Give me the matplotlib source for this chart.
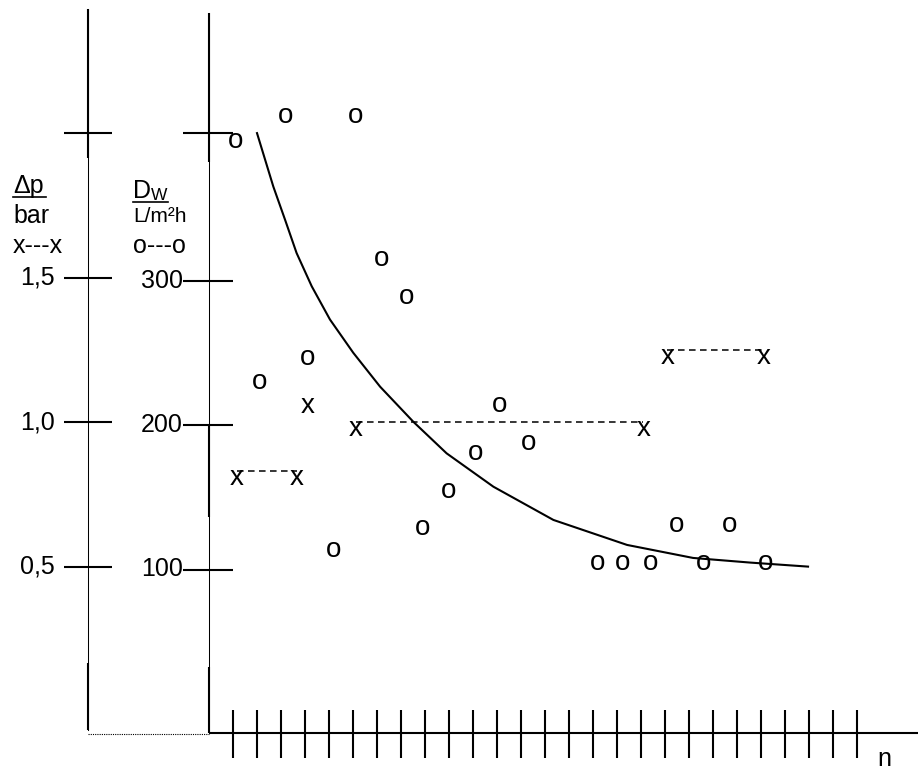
#Flux D_W and pressure drop over number of runs n
import matplotlib
matplotlib.use("Agg")
import matplotlib.pyplot as plt
from matplotlib.transforms import offset_copy

plt.rcParams['font.family'] = ['Liberation Sans', 'DejaVu Sans']

# D_W (L/m2h) per run n, drawn as "o"
flux_n = [1.1, 3.2, 6.1, 7.2, 8.25, 2.1, 4.1, 12.1, 13.3, 11.1, 10.0, 8.9, 5.2,
          16.2, 17.25, 18.4, 19.5, 21.7, 20.6, 23.2]
flux_D = [397, 414, 414, 315, 289, 230, 247, 214, 188, 181, 155, 129, 114,
          105, 105, 105, 131, 131, 105, 105]

# pressure drop (bar) per run n, drawn as "x", some pairs joined by dashes
dp_n = [1.17, 3.67, 4.12, 6.12, 18.1, 19.1, 23.1]
dp_bar = [0.83, 0.83, 1.08, 1.0, 1.0, 1.25, 1.25]
dp_pairs = [(0, 1), (3, 4), (5, 6)]

# trend line
curve_n = [2.0, 2.68, 3.17, 3.65, 4.28, 5.04, 6.01, 7.13, 8.51, 9.9, 11.85,
           14.35, 17.42, 20.17, 22.54, 24.96]
curve_D = [402, 365, 342, 319, 296, 273, 250, 226.5, 202.3, 180.4, 157.3,
           134.3, 117, 108, 104.8, 102]

flux_ticks = [100, 200, 300, 402]
flux_labels = ['100', '200', '300', '']
dp_ticks = [0.5, 1.0, 1.5, 2.0]
dp_labels = ['0,5', '1,0', '1,5', '']
n_ticks = list(range(1, 28))


def dp_to_D(v):
    # the bar scale sits next to the flux scale, 0.5 bar ~ 100 L/m2h
    return v * 200 + 2


fig = plt.figure(figsize=(9.18, 7.71), dpi=100)
ax = fig.add_axes([0, 0, 1, 1])
ax.set_xlim(-209 / 24, (918 - 209) / 24)
ax.set_ylim((714 - 771) / 1.445, 714 / 1.445)
ax.axis('off')

thin = 0.75
thick = 1.5
X_FLUX = 0.0
X_DP = -5.04
Y_BASE = -13.2

# flux axis: thin line with heavier pieces
ax.plot([X_FLUX, X_FLUX], [485, Y_BASE], color='black', lw=thin)
for a, b in [(485, 382), (199, 136), (32.5, Y_BASE)]:
    ax.plot([X_FLUX, X_FLUX], [a, b], color='black', lw=thick, solid_capstyle='butt')
# pressure axis
ax.plot([X_DP, X_DP], [488, -11], color='black', lw=thin)
for a, b in [(488, 385), (35, -11)]:
    ax.plot([X_DP, X_DP], [a, b], color='black', lw=thick, solid_capstyle='butt')
ax.plot([X_DP, X_FLUX], [Y_BASE - 0.5, Y_BASE - 0.5], color='black', lw=0.8, ls=(0, (1, 1)))

# n axis with ticks
ax.plot([X_FLUX, 30], [Y_BASE, Y_BASE], color='black', lw=thick, solid_capstyle='butt')
ax.vlines(n_ticks, Y_BASE - 17.3, Y_BASE + 15.9, color='black', lw=thick)

# y ticks
for t, lab in zip(flux_ticks, flux_labels):
    ax.plot([X_FLUX - 1.08, X_FLUX + 1.0], [t, t], color='black', lw=thick, solid_capstyle='butt')
    ax.text(X_FLUX - 1.08, t, lab, ha='right', va='center', fontsize=18)
for t, lab in zip(dp_ticks, dp_labels):
    y = dp_to_D(t)
    ax.plot([X_DP - 1.0, X_DP + 1.0], [y, y], color='black', lw=thick, solid_capstyle='butt')
    ax.text(X_DP - 1.38, y, lab, ha='right', va='center', fontsize=18)

# trend curve
ax.plot(curve_n, curve_D, color='black', lw=1.5)

# markers as letters
o_tr = offset_copy(ax.transData, fig=fig, x=0, y=-7.5, units='dots')
for n, d in zip(flux_n, flux_D):
    ax.text(n, d, 'o', transform=o_tr, ha='center', va='baseline', fontsize=20)

x_tr = offset_copy(ax.transData, fig=fig, x=0, y=-14, units='dots')
for n, v in zip(dp_n, dp_bar):
    ax.text(n, dp_to_D(v), 'x', transform=x_tr, ha='center', va='baseline', fontsize=20)
for i, j in dp_pairs:
    ax.plot([dp_n[i], dp_n[j]], [dp_to_D(dp_bar[i]), dp_to_D(dp_bar[j])],
            color='black', lw=1.1, dashes=(4.3, 2.9))

# labels block, placed in pixel space
cv = fig.add_axes([0, 0, 1, 1], facecolor='none')
cv.set_xlim(0, 918)
cv.set_ylim(771, 0)
cv.axis('off')
cv.text(13, 193, '\u0394p', fontsize=18, va='baseline')
cv.plot([13, 46], [196.5, 196.5], color='black', lw=1.2)
cv.text(13, 223, 'bar', fontsize=18, va='baseline')
cv.text(13, 253, 'x---x', fontsize=18, va='baseline')
cv.text(133, 198, 'D', fontsize=18, va='baseline')
cv.text(151, 200, 'W', fontsize=12.5, va='baseline')
cv.plot([133, 168], [201.5, 201.5], color='black', lw=1.2)
cv.text(133, 222, 'L/m\u00b2h', fontsize=15, va='baseline')
cv.text(133, 253, 'o---o', fontsize=18, va='baseline')
cv.text(884, 766, 'n', fontsize=18, ha='center', va='baseline')

fig.savefig('out.png', dpi=100)
